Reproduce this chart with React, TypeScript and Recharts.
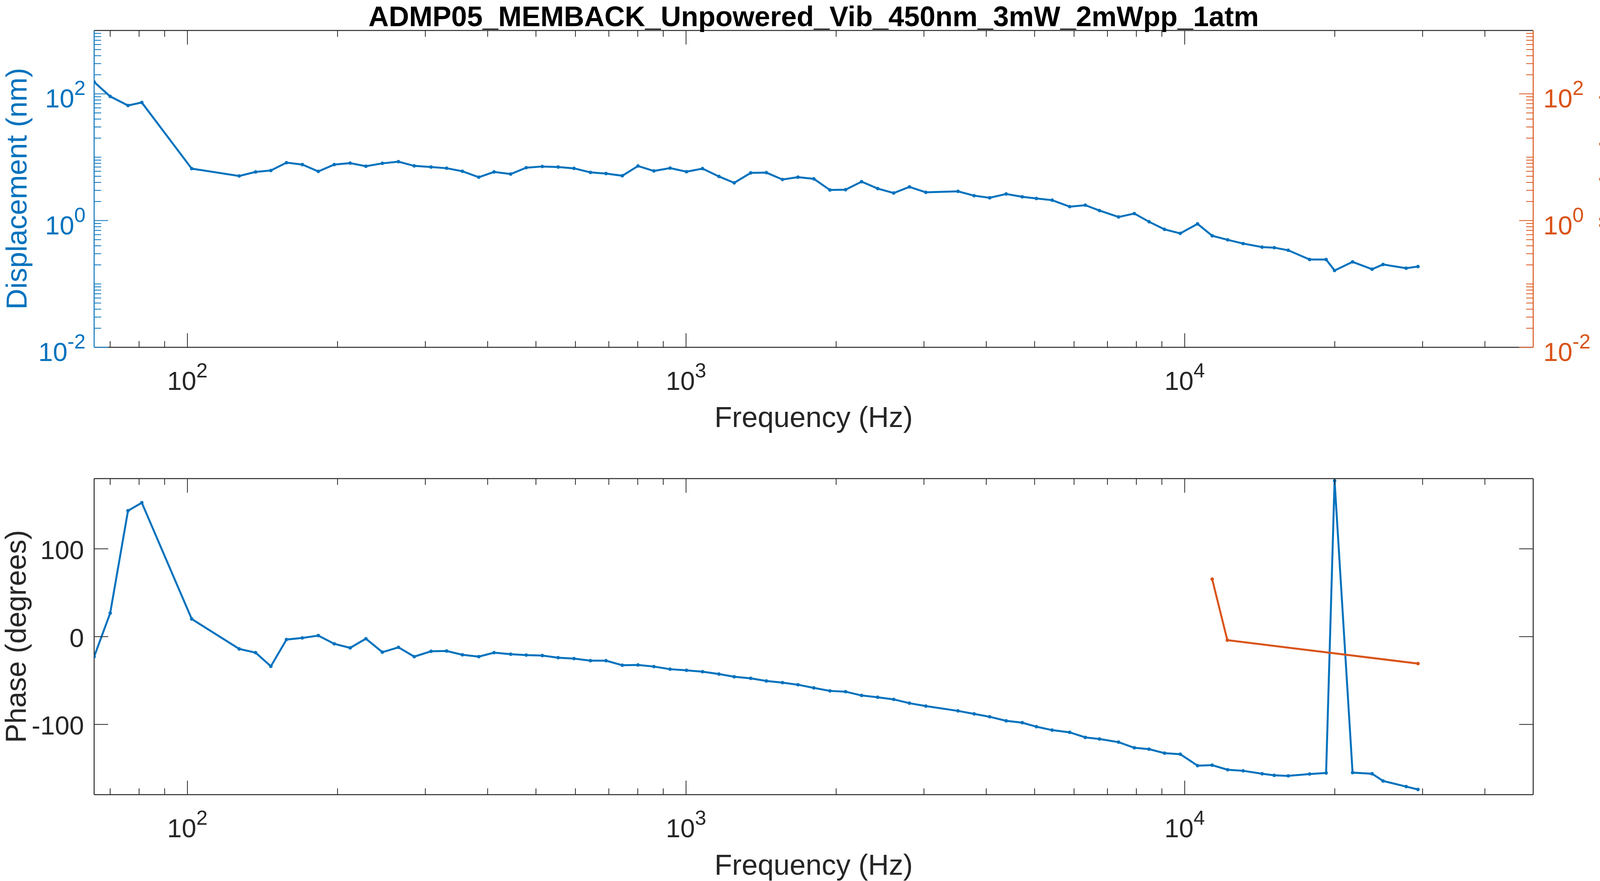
import { LineChart, Line, XAxis, YAxis } from "recharts"

const BLUE = "#0072BD"
const ORANGE = "#D95319"
const INK = "#262626"
const FONT = "'Liberation Sans', Arial, Helvetica, sans-serif"

const W = 4175
const H = 2255

// measured frequencies (Hz) shared by displacement and phase
const FREQ_HZ = [
  65, 70, 76, 81, 102, 127, 137, 147, 158, 170, 183, 197, 212, 228, 246, 265, 285, 308, 331, 356,
  384, 412, 445, 478, 515, 554, 596, 643, 691, 745, 801, 862, 929, 1002, 1079, 1164, 1249, 1348,
  1449, 1561, 1677, 1804, 1943, 2089, 2249, 2423, 2609, 2805, 3026, 3511, 3782, 4064, 4385, 4723,
  5043, 5422, 5880, 6320, 6746, 7369, 7926, 8484, 9109, 9799, 10613, 11355, 12195, 13095, 14301,
  15123, 16131, 17805, 19215, 19981, 21712, 23757, 24997, 27809, 29369,
]

const DISP_NM = [
  154, 91, 65.5, 73, 6.6, 5.06, 5.86, 6.17, 8.2, 7.65, 5.96, 7.65, 8.06, 7.2, 8.0, 8.5, 7.3, 7.0, 6.7, 6.0,
  4.84, 5.86, 5.42, 6.84, 7.14, 7.0, 6.67, 5.76, 5.52, 5.1, 7.27, 6.07, 6.73, 5.91, 6.61, 4.97, 3.94, 5.66,
  5.71, 4.45, 4.84, 4.56, 3.04, 3.07, 4.11, 3.2, 2.72, 3.4, 2.79, 2.89, 2.47, 2.29, 2.63, 2.37,
  2.23, 2.1, 1.66, 1.75, 1.44, 1.14, 1.29, 0.958, 0.727, 0.628, 0.887, 0.576, 0.497, 0.434, 0.381,
  0.374, 0.34, 0.243, 0.243, 0.163, 0.223, 0.171, 0.203, 0.177, 0.188,
]

const PHASE_DEG = [
  -22.8, 26.8, 143.4, 152.5, 20.1, -14.0, -18.3, -33.8, -3.3, -1.5, 1.2, -8.2, -12.8, -2.4, -17.7, -12.2, -22.8, -16.7, -16.4, -20.7,
  -22.8, -18.3, -20.0, -21.0, -21.6, -24.0, -25.0, -27.4, -27.4, -32.6, -32.3, -34.1, -37.1, -38.4, -39.9, -42.6, -45.7, -47.5,
  -50.5, -52.4, -54.8, -58.4, -61.8, -62.7, -67.0, -69.1, -71.5, -75.8, -79.1, -84.6, -88.0, -91.3, -95.9, -98.0,
  -102.6, -106.5, -109.0, -114.8, -116.6, -120.2, -126.6, -128.2, -132.7, -133.9, -147.0, -146.4, -151.6, -152.8, -156.2,
  -158.0, -158.6, -156.5, -155.3, 177.5, -154.9, -156.2, -164.4, -170.8, -174.1,
]

// second (orange) phase trace
const AMP_FREQ_HZ = [11355, 12177, 29369]
const AMP_PHASE_DEG = [65.4, -4.0, -30.7]

const X_MAJOR = [100, 1000, 10000]
const X_MINOR = [70, 80, 90, 200, 300, 400, 500, 600, 700, 800, 900, 2000, 3000, 4000, 5000, 6000, 7000, 8000, 9000, 20000, 30000, 40000]
const LOG_Y_MAJOR = [0.01, 1, 100]
const LOG_Y_MINOR = [
  0.02, 0.03, 0.04, 0.05, 0.06, 0.07, 0.08, 0.09, 0.1, 0.2, 0.3, 0.4, 0.5, 0.6, 0.7, 0.8, 0.9,
  2, 3, 4, 5, 6, 7, 8, 9, 10, 20, 30, 40, 50, 60, 70, 80, 90, 200, 300, 400, 500, 600, 700, 800, 900,
]
const PHASE_TICKS = [-100, 0, 100]

const X_DOMAIN = [65, 50000]
const LOG_Y_DOMAIN = [0.01, 1000]
const PHASE_DOMAIN = [-180, 180]

const TITLE = "ADMP05_MEMBACK_Unpowered_Vib_450nm_3mW_2mWpp_1atm"

const magData = FREQ_HZ.map((f, i) => ({ f, disp: DISP_NM[i], phase: PHASE_DEG[i] }))
const ampData = AMP_FREQ_HZ.map((f, i) => ({ f, phase: AMP_PHASE_DEG[i] }))
const X_TICKS = [...X_MAJOR, ...X_MINOR].sort((a, b) => a - b)
const LOG_Y_TICKS = [...LOG_Y_MAJOR, ...LOG_Y_MINOR].sort((a, b) => a - b)

const TICK_FS = 67
const EXP_FS = 52
const LABEL_FS = 73.7
const LINE_W = 5
const DOT_R = 4.5

function Pow10({ x, y, v, anchor, color }: { x: number; y: number; v: number; anchor: "start" | "middle" | "end"; color: string }) {
  const e = Math.round(Math.log10(v))
  return (
    <text x={x} y={y} textAnchor={anchor} fill={color} fontFamily={FONT} fontSize={TICK_FS}>
      10<tspan dy={-32} fontSize={EXP_FS}>{e}</tspan>
    </text>
  )
}

const xTick = (side: "top" | "bottom", withLabel: boolean) => (p: any) => {
  const v = p.payload.value
  const major = X_MAJOR.includes(v)
  const len = major ? 36 : 16
  const y2 = side === "bottom" ? p.y - len : p.y + len
  return (
    <g>
      <line x1={p.x} x2={p.x} y1={p.y} y2={y2} stroke={INK} strokeWidth={2} />
      {withLabel && major && <Pow10 x={p.x} y={p.y + 109} v={v} anchor="middle" color={INK} />}
    </g>
  )
}

const logYTick = (side: "left" | "right", color: string) => (p: any) => {
  const v = p.payload.value
  const major = LOG_Y_MAJOR.includes(v)
  const len = major ? 36 : 18
  const x2 = side === "left" ? p.x + len : p.x - len
  return (
    <g>
      <line x1={p.x} x2={x2} y1={p.y} y2={p.y} stroke={color} strokeWidth={2} />
      {major && (side === "left"
        ? <Pow10 x={p.x - 22} y={p.y + 35} v={v} anchor="end" color={color} />
        : <Pow10 x={p.x + 26} y={p.y + 35} v={v} anchor="start" color={color} />)}
    </g>
  )
}

const phaseTick = (side: "left" | "right") => (p: any) => {
  const x2 = side === "left" ? p.x + 36 : p.x - 36
  return (
    <g>
      <line x1={p.x} x2={x2} y1={p.y} y2={p.y} stroke={INK} strokeWidth={2} />
      {side === "left" && (
        <text x={p.x - 26} y={p.y + 26} textAnchor="end" fill={INK} fontFamily={FONT} fontSize={TICK_FS}>
          {p.payload.value}
        </text>
      )}
    </g>
  )
}

// axes are 1px thick (recharts skips a 0-sized axis), the margins absorb that pixel
const axisProps = { tickSize: 0, tickMargin: 0, tickLine: false, interval: 0 as const, allowDataOverflow: true }
const axisLineInk = { stroke: INK, strokeWidth: 2.5 }

function MagnitudeChart() {
  return (
    <LineChart width={W} height={H} data={magData} margin={{ top: 77, right: 249, bottom: H - 889 - 1, left: 240 }}>
      <XAxis xAxisId="b" dataKey="f" type="number" scale="log" domain={X_DOMAIN} ticks={X_TICKS} height={1}
        axisLine={axisLineInk} tick={xTick("bottom", true)} {...axisProps} />
      <XAxis xAxisId="t" orientation="top" dataKey="f" type="number" scale="log" domain={X_DOMAIN} ticks={X_TICKS} height={1}
        axisLine={axisLineInk} tick={xTick("top", false)} {...axisProps} />
      <YAxis yAxisId="nm" type="number" scale="log" domain={LOG_Y_DOMAIN} ticks={LOG_Y_TICKS} width={1}
        axisLine={{ stroke: BLUE, strokeWidth: 2.5 }} tick={logYTick("left", BLUE)} {...axisProps} />
      <YAxis yAxisId="mv" orientation="right" type="number" scale="log" domain={LOG_Y_DOMAIN} ticks={LOG_Y_TICKS} width={1}
        axisLine={{ stroke: ORANGE, strokeWidth: 2.5 }} tick={logYTick("right", ORANGE)} {...axisProps} />
      <Line xAxisId="b" yAxisId="nm" dataKey="disp" type="linear" stroke={BLUE} strokeWidth={LINE_W}
        dot={{ r: DOT_R, fill: BLUE, stroke: BLUE, strokeWidth: 0 }} isAnimationActive={false} />
    </LineChart>
  )
}

function PhaseChart() {
  return (
    <LineChart width={W} height={H} data={magData} margin={{ top: 1224, right: 249, bottom: H - 2034 - 1, left: 240 }}>
      <XAxis xAxisId="b" dataKey="f" type="number" scale="log" domain={X_DOMAIN} ticks={X_TICKS} height={1}
        axisLine={axisLineInk} tick={xTick("bottom", true)} {...axisProps} />
      <XAxis xAxisId="t" orientation="top" dataKey="f" type="number" scale="log" domain={X_DOMAIN} ticks={X_TICKS} height={1}
        axisLine={axisLineInk} tick={xTick("top", false)} {...axisProps} />
      <YAxis yAxisId="deg" type="number" domain={PHASE_DOMAIN} ticks={PHASE_TICKS} width={1}
        axisLine={axisLineInk} tick={phaseTick("left")} {...axisProps} />
      <YAxis yAxisId="deg2" orientation="right" type="number" domain={PHASE_DOMAIN} ticks={PHASE_TICKS} width={1}
        axisLine={axisLineInk} tick={phaseTick("right")} {...axisProps} />
      <Line xAxisId="b" yAxisId="deg" dataKey="phase" type="linear" stroke={BLUE} strokeWidth={LINE_W}
        dot={{ r: DOT_R, fill: BLUE, stroke: BLUE, strokeWidth: 0 }} isAnimationActive={false} />
      <Line xAxisId="b" yAxisId="deg" data={ampData} dataKey="phase" type="linear" stroke={ORANGE} strokeWidth={LINE_W}
        dot={{ r: DOT_R, fill: ORANGE, stroke: ORANGE, strokeWidth: 0 }} isAnimationActive={false} />
    </LineChart>
  )
}

function Texts() {
  const common = { fontFamily: FONT, fontSize: LABEL_FS }
  return (
    <svg width={W} height={H} style={{ position: "absolute", left: 0, top: 0, pointerEvents: "none" }}>
      <text x={2083} y={67} textAnchor="middle" fontWeight="bold" fill="#000" fontFamily={FONT} fontSize={72}>{TITLE}</text>
      <text x={2083} y={1093} textAnchor="middle" fill={INK} {...common}>Frequency (Hz)</text>
      <text x={2083} y={2239} textAnchor="middle" fill={INK} {...common}>Frequency (Hz)</text>
      <text x={68} y={483} textAnchor="middle" fill={BLUE} transform="rotate(-90 68 483)" {...common}>Displacement (nm)</text>
      <text x={4148} y={483} textAnchor="middle" fill={ORANGE} transform="rotate(-90 4148 483)" {...common}>Amplitude (mV)</text>
      <text x={66} y={1629} textAnchor="middle" fill={INK} transform="rotate(-90 66 1629)" {...common}>Phase (degrees)</text>
    </svg>
  )
}

export default function App() {
  return (
    <div style={{ position: "relative", width: W, height: H, background: "#fff" }}>
      <style>{`body{margin:0}`}</style>
      <div style={{ position: "absolute", left: 0, top: 0 }}><MagnitudeChart /></div>
      <div style={{ position: "absolute", left: 0, top: 0 }}><PhaseChart /></div>
      <Texts />
    </div>
  )
}
